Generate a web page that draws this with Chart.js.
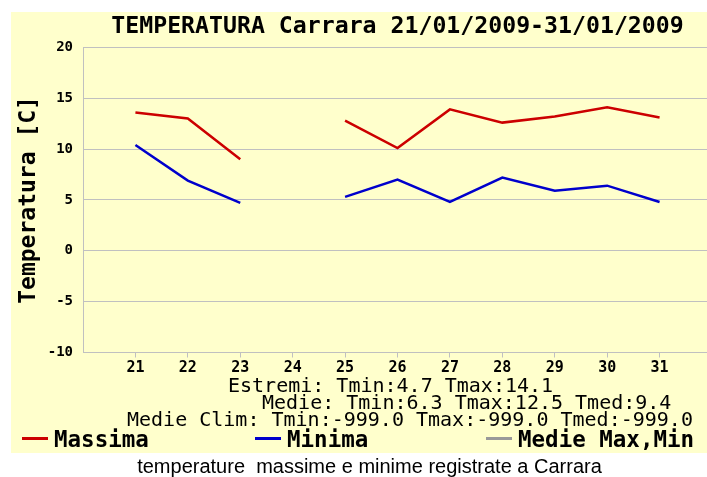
<!DOCTYPE html>
<html>
<head>
<meta charset="utf-8">
<script src="https://cdn.jsdelivr.net/npm/chart.js@4"></script>
<style>
  html, body { margin: 0; padding: 0; background: #fff; overflow: hidden; width: 707px; height: 477px; }
  #wrap { position: relative; width: 707px; height: 477px; overflow: hidden; }
  canvas { position: absolute; left: 0; top: 0; }
  #caption { position: absolute; left: 0; top: 455px; width: 739px; text-align: center; line-height: 24px;
             font: 20px "Liberation Sans", Arial, sans-serif; white-space: pre; color: #000; }
</style>
</head>
<body>
<div id="wrap">
  <canvas id="c" width="712" height="477"></canvas>
  <div id="caption">temperature  massime e minime registrate a Carrara</div>
</div>
<script>
// Days of January 2009
const days = [21, 22, 23, 24, 25, 26, 27, 28, 29, 30, 31];
// Daily maximum temperature (°C); null = missing reading
const tMax = [13.6, 13.0, 9.0, null, 12.8, 10.1, 13.9, 12.6, 13.2, 14.1, 13.1];
// Daily minimum temperature (°C)
const tMin = [10.4, 6.9, 4.7, null, 5.3, 7.0, 4.8, 7.2, 5.9, 6.4, 4.8];
// Y axis tick values
const yTicks = [-10, -5, 0, 5, 10, 15, 20];
// Climatological means (not available)
const climTmin = -999.0;
const climTmax = -999.0;
const climTmed = -999.0;

const MONO = '"DejaVu Sans Mono", monospace';

const valid = a => a.filter(v => v !== null);
const mean = a => a.reduce((s, v) => s + v, 0) / a.length;
const extMin = Math.min(...valid(tMin));
const extMax = Math.max(...valid(tMax));
const avgMin = mean(valid(tMin));
const avgMax = mean(valid(tMax));
const avgMed = mean(days.map((d, i) => tMax[i] === null ? null : (tMax[i] + tMin[i]) / 2).filter(v => v !== null));

const statLines = [
  { text: `Estremi: Tmin:${extMin.toFixed(1)} Tmax:${extMax.toFixed(1)}`, x: 228, y: 387 },
  { text: `Medie: Tmin:${avgMin.toFixed(1)} Tmax:${avgMax.toFixed(1)} Tmed:${avgMed.toFixed(1)}`, x: 262, y: 404 },
  { text: `Medie Clim: Tmin:${climTmin.toFixed(1)} Tmax:${climTmax.toFixed(1)} Tmed:${climTmed.toFixed(1)}`, x: 127, y: 421 }
];

const toPoints = arr => days.map((d, i) => ({ x: d, y: arr[i] }));

// Pale yellow panel behind the whole chart
const panel = {
  id: 'panel',
  beforeDraw(chart) {
    const ctx = chart.ctx;
    ctx.save();
    ctx.fillStyle = '#ffffcc';
    ctx.fillRect(11, 12, 701, 441);
    ctx.restore();
  }
};

// Summary statistics and the legend row under the axis
const footer = {
  id: 'footer',
  afterDraw(chart) {
    const ctx = chart.ctx;
    ctx.save();
    ctx.fillStyle = '#000';
    ctx.textBaseline = 'middle';
    ctx.textAlign = 'left';
    ctx.font = '20px ' + MONO;
    statLines.forEach(l => ctx.fillText(l.text, l.x, l.y));

    const legendX = [22, 255, 486];
    ctx.font = 'bold 22.5px ' + MONO;
    chart.data.datasets.forEach((ds, i) => {
      const x = legendX[i];
      ctx.strokeStyle = ds.borderColor;
      ctx.lineWidth = 3;
      ctx.beginPath();
      ctx.moveTo(x, 438.5);
      ctx.lineTo(x + 26, 438.5);
      ctx.stroke();
      ctx.fillText(ds.label, x + 32, 441);
    });
    ctx.restore();
  }
};

new Chart(document.getElementById('c'), {
  type: 'line',
  data: {
    datasets: [
      { label: 'Massima', data: toPoints(tMax), borderColor: '#cc0000', borderWidth: 2.5,
        pointRadius: 0, spanGaps: false, tension: 0 },
      { label: 'Minima', data: toPoints(tMin), borderColor: '#0000cc', borderWidth: 2.5,
        pointRadius: 0, spanGaps: false, tension: 0 },
      { label: 'Medie Max,Min', data: [], borderColor: '#999999', borderWidth: 2.5, pointRadius: 0 }
    ]
  },
  options: {
    responsive: false,
    animation: false,
    layout: { padding: 0 },
    plugins: {
      legend: { display: false },
      tooltip: { enabled: false },
      title: {
        display: true,
        fullSize: false,
        text: 'TEMPERATURA Carrara 21/01/2009-31/01/2009',
        color: '#000',
        font: { family: MONO, size: 23.2, weight: 'bold' },
        padding: { top: 13.5, bottom: 6 }
      }
    },
    scales: {
      x: {
        type: 'linear',
        min: 20,
        max: 32,
        afterBuildTicks: s => { s.ticks = days.map(v => ({ value: v })); },
        afterFit: s => { s.height = 124.5; },
        ticks: { autoSkip: false, maxRotation: 0, padding: 2, color: '#000',
                 font: { family: MONO, size: 15, weight: 'bold' } },
        grid: { drawOnChartArea: false, tickLength: 5, color: '#c0c0c0' },
        border: { color: '#c0c0c0' }
      },
      y: {
        min: -10,
        max: 20,
        afterBuildTicks: s => { s.ticks = yTicks.map(v => ({ value: v })); },
        afterFit: s => { s.width = 83; },
        ticks: { padding: 10, color: '#000', font: { family: MONO, size: 14, weight: 'bold' } },
        grid: { drawTicks: false, color: '#c0c0c0' },
        border: { color: '#c0c0c0' },
        title: {
          display: true,
          text: 'Temperatura [C]',
          color: '#000',
          font: { family: MONO, size: 23, weight: 'bold' },
          padding: { top: 15, bottom: 0 }
        }
      }
    }
  },
  plugins: [panel, footer]
});
</script>
</body>
</html>
